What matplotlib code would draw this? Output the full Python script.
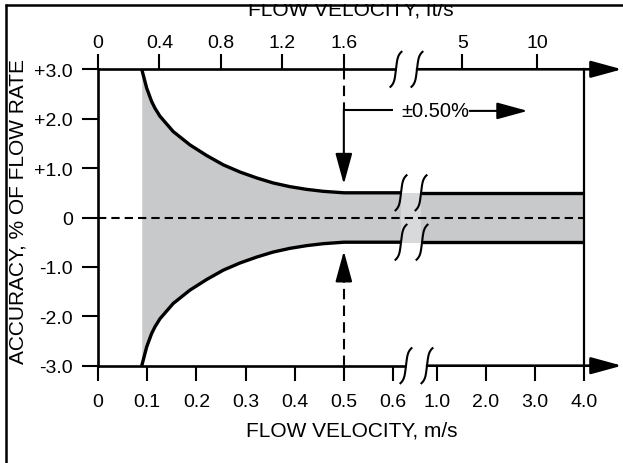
import numpy as np
import matplotlib
matplotlib.use('Agg')
import matplotlib.pyplot as plt
import matplotlib.transforms as mtransforms
from matplotlib.lines import Line2D
from matplotlib.patches import Rectangle

plt.rcParams['font.family'] = ['Liberation Sans', 'DejaVu Sans']

# ---------------- data ----------------
velocity = [0.089, 0.094, 0.099, 0.109, 0.116, 0.126, 0.153, 0.187, 0.221,
            0.255, 0.289, 0.323, 0.356, 0.390, 0.424, 0.458, 0.500, 4.0]
accuracy = [3.00, 2.81, 2.62, 2.35, 2.21, 2.05, 1.74, 1.47, 1.255,
            1.065, 0.92, 0.80, 0.70, 0.625, 0.570, 0.530, 0.500, 0.500]
spec_velocity = 0.5
spec_label = '±0.50%'

bottom_ticks = [0, 0.1, 0.2, 0.3, 0.4, 0.5, 0.6, 1.0, 2.0, 3.0, 4.0]
bottom_labels = ['0', '0.1', '0.2', '0.3', '0.4', '0.5', '0.6', '1.0', '2.0', '3.0', '4.0']
top_tick_pos = [0, 0.125, 0.25, 0.375, 0.5, 1.52, 3.05]
top_labels = ['0', '0.4', '0.8', '1.2', '1.6', '5', '10']
y_ticks = [3, 2, 1, 0, -1, -2, -3]
y_labels = ['+3.0', '+2.0', '+1.0', '0', '-1.0', '-2.0', '-3.0']

xlabel_bottom = 'FLOW VELOCITY, m/s'
xlabel_top = 'FLOW VELOCITY, ft/s'
ylabel = 'ACCURACY, % OF FLOW RATE'

# broken-axis scale (0.6 .. 1.0 m/s compressed)
SCALE_V = [-10, 0, 0.6, 1.0, 4.0, 40]
SCALE_U = [-4920, 0, 295, 339, 486, 486 + 36 * 49]


def fwd(v):
    return np.interp(v, SCALE_V, SCALE_U)


def inv(u):
    return np.interp(u, SCALE_U, SCALE_V)


# break positions (m/s)
brk_top = (0.627, 0.818)
brk_band_up = (0.673, 0.855)
brk_band_lo = (0.673, 0.864)
brk_bottom = (0.718, 0.909)

W, H = 623, 464
fig = plt.figure(figsize=(W / 100, H / 100), dpi=100)
ax = fig.add_axes([98 / W, (H - 366.7) / H, 486 / W, 296.4 / H])
ax.set_xscale('function', functions=(fwd, inv))

vel = np.array(velocity)
acc = np.array(accuracy)

GREY = '#c8c9cb'
ax.fill_between(vel, acc, -acc, color=GREY, lw=0, zorder=1)
g0, g1 = brk_band_up
band_level = np.interp(g0, vel, acc)
ax.fill_between(list(brk_band_up), [band_level] * 2, [-band_level] * 2,
                color='#d8d9db', lw=0, zorder=1.2)

# zero line
ax.plot([0, 4.0], [0, 0], color='k', lw=1.5, dashes=(4, 2.4), zorder=2)


def split_line(g, sign):
    a, b = g
    left = vel < a
    right = vel > b
    xl = np.append(vel[left], a)
    yl = np.append(acc[left], np.interp(a, vel, acc)) * sign
    xr = np.insert(vel[right], 0, b)
    yr = np.insert(acc[right], 0, np.interp(b, vel, acc)) * sign
    return (xl, yl), (xr, yr)


for g, sgn in ((brk_band_up, 1), (brk_band_lo, -1)):
    for xs, ys in split_line(g, sgn):
        ax.plot(xs, ys, color='k', lw=2.4, solid_capstyle='butt',
                solid_joinstyle='round', zorder=3)

# axis lines (top / bottom) with breaks and arrows
AX_LW = 1.9
arrow_style = '-|>,head_length=1.9,head_width=0.52'
for g, yv, yf in ((brk_top, 3.0, 1.0), (brk_bottom, -3.0, 0.0)):
    ax.plot([0, g[0]], [yv, yv], color='k', lw=AX_LW, clip_on=False,
            solid_capstyle='butt', zorder=4)
    ax.annotate('', xy=(1.078, yf), xycoords='axes fraction',
                xytext=(g[1], yv), textcoords='data',
                arrowprops=dict(arrowstyle=arrow_style, mutation_scale=10,
                                lw=AX_LW, color='k', shrinkA=0, shrinkB=0),
                annotation_clip=False, zorder=4)


def s_mark(v, a):
    t = np.linspace(-1, 1, 60)
    xs = (2.2 * t + 3.3 * t ** 5) * 0.72
    ys = 17.5 * t * 0.72
    tr = mtransforms.Affine2D().scale(fig.dpi / 72.0) + \
        mtransforms.ScaledTranslation(v, a, ax.transData)
    ln = Line2D(xs, ys, transform=tr, color='k', lw=1.5, zorder=5)
    fig.add_artist(ln)


for g, yv in ((brk_top, 3.0), (brk_band_up, band_level),
              (brk_band_lo, -band_level), (brk_bottom, -3.0)):
    for v in g:
        s_mark(v, yv)

# specification markers at 0.5 m/s
ax.plot([spec_velocity] * 2, [3.0, 2.18], color='k', lw=1.5, dashes=(5, 3), zorder=4)
ax.plot([spec_velocity, 0.6], [2.18, 2.18], color='k', lw=1.5, zorder=4,
        solid_capstyle='butt')
ax.annotate('', xy=(spec_velocity, 0.674), xytext=(spec_velocity, 2.18),
            arrowprops=dict(arrowstyle=arrow_style, mutation_scale=10, lw=1.5,
                            color='k', shrinkA=0, shrinkB=0), zorder=4)
ax.plot([spec_velocity] * 2, [-3.0, -1.25], color='k', lw=1.5, dashes=(5, 3), zorder=4)
ax.annotate('', xy=(spec_velocity, -0.68), xytext=(spec_velocity, -1.25),
            arrowprops=dict(arrowstyle=arrow_style, mutation_scale=10, lw=1.5,
                            color='k', shrinkA=0, shrinkB=0), zorder=4)
ax.annotate(spec_label, xy=(2.85, 2.158), xytext=(0.679, 2.158),
            ha='left', va='center', fontsize=14.5,
            arrowprops=dict(arrowstyle=arrow_style, mutation_scale=10, lw=1.5,
                            color='k', shrinkA=0, shrinkB=0, relpos=(1, 0.5),
                            patchA=None), zorder=4)

# axes styling
ax.set_xlim(0, 4.0)
ax.set_ylim(-3, 3)
ax.spines['top'].set_visible(False)
ax.spines['bottom'].set_visible(False)
ax.spines['left'].set_linewidth(AX_LW)
ax.spines['right'].set_linewidth(1.6)
ax.set_xticks(bottom_ticks, bottom_labels)
ax.set_yticks(y_ticks, y_labels)
ax.tick_params(axis='x', direction='out', length=10.8, width=1.5, pad=9.0,
               labelsize=14, top=False, bottom=True)
ax.tick_params(axis='y', direction='out', length=11.5, width=1.5, pad=6.5,
               labelsize=14, right=False)
ax.set_xlabel(xlabel_bottom, fontsize=15)
ax.xaxis.set_label_coords((352 - 98) / 486, (366.7 - 421.7) / 296.4)
ax.set_ylabel(ylabel, fontsize=15)
ax.yaxis.set_label_coords((27.4 - 98) / 486, (366.7 - 212) / 296.4)

ax_top = ax.twiny()
ax_top.set_xscale('function', functions=(fwd, inv))
ax_top.set_xlim(0, 4.0)
ax_top.set_xticks(top_tick_pos, top_labels)
ax_top.tick_params(axis='x', direction='out', length=10.8, width=1.5, pad=2.2,
                   labelsize=14)
for sp in ax_top.spines.values():
    sp.set_visible(False)
ax_top.set_xlabel(xlabel_top, fontsize=15)
ax_top.xaxis.set_label_coords((351 - 98) / 486, (366.7 - 15.6) / 296.4)

# figure frame (left and top, the title is cut by it)
fig.add_artist(Rectangle((0, 1 - 4.6 / H), 1, 4.6 / H, transform=fig.transFigure,
                         facecolor='white', edgecolor='none', zorder=5))
fig.add_artist(Line2D([6.3 / W, 6.3 / W], [0, 1 - 4.6 / H], transform=fig.transFigure,
                      color='k', lw=1.8, zorder=6, solid_capstyle='butt'))
fig.add_artist(Line2D([5.0 / W, 1], [1 - 5.8 / H, 1 - 5.8 / H], transform=fig.transFigure,
                      color='k', lw=1.8, zorder=6, solid_capstyle='butt'))

fig.savefig('out.png', dpi=100)
